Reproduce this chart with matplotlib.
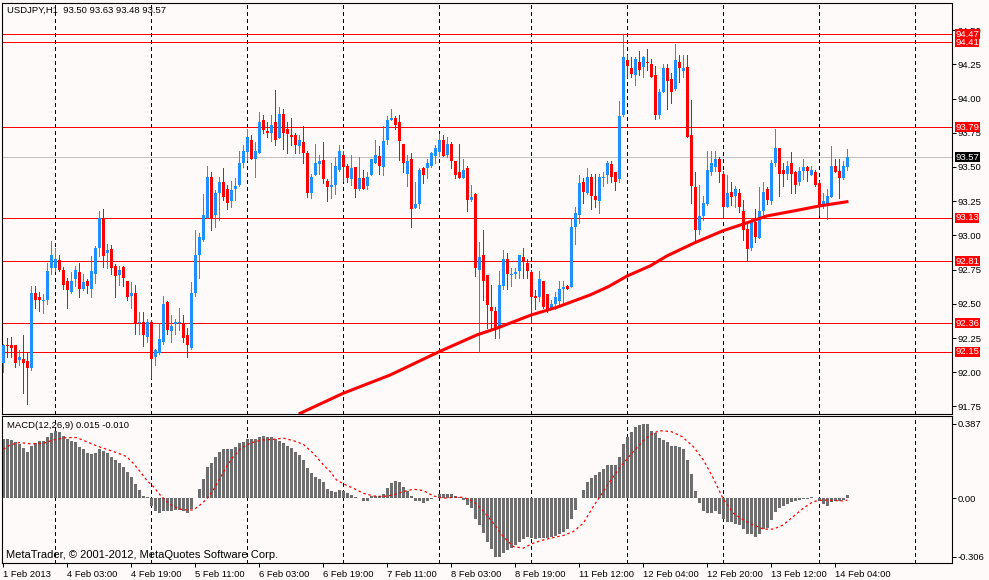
import numpy as np
import matplotlib.pyplot as plt
from matplotlib.transforms import blended_transform_factory

plt.rcParams['font.family'] = ['Liberation Sans', 'DejaVu Sans']

# USDJPY H1 candles
opens = [92.07, 92.20, 92.20, 92.20, 92.09, 92.10, 92.08, 92.03, 92.58, 92.55,
         92.52, 92.53, 92.76, 92.76, 92.82, 92.75, 92.67, 92.59, 92.68, 92.73,
         92.61, 92.67, 92.61, 92.72, 92.91, 93.13, 92.87, 92.90, 92.78, 92.71,
         92.77, 92.67, 92.56, 92.58, 92.36, 92.37, 92.26, 92.37, 92.11, 92.14,
         92.22, 92.51, 92.30, 92.35, 92.36, 92.36, 92.27, 92.18, 92.58, 92.86,
         92.97, 93.13, 93.43, 93.15, 93.31, 93.39, 93.34, 93.25, 93.34, 93.37,
         93.53, 93.61, 93.70, 93.56, 93.60, 93.84, 93.76, 93.75, 93.83, 93.71,
         93.89, 93.78, 93.73, 93.73, 93.65, 93.68, 93.60, 93.31, 93.44, 93.52,
         93.55, 93.40, 93.35, 93.37, 93.48, 93.59, 93.51, 93.41, 93.50, 93.34,
         93.42, 93.36, 93.44, 93.53, 93.58, 93.50, 93.70, 93.84, 93.86, 93.83,
         93.67, 93.45, 93.56, 93.20, 93.23, 93.49, 93.49, 93.51, 93.58, 93.61,
         93.70, 93.59, 93.67, 93.54, 93.46, 93.42, 93.49, 93.26, 93.30, 92.75,
         92.86, 92.71, 92.48, 92.45, 92.33, 92.63, 92.83, 92.71, 92.72, 92.74,
         92.84, 92.80, 92.73, 92.56, 92.55, 92.67, 92.57, 92.46, 92.50, 92.52,
         92.61, 92.63, 92.62, 93.06, 93.15, 93.39, 93.31, 93.43, 93.29, 93.25,
         93.42, 93.44, 93.52, 93.46, 93.41, 93.88, 94.28, 94.22, 94.17, 94.27,
         94.23, 94.27, 94.25, 94.17, 93.88, 94.05, 94.22, 94.14, 94.07, 94.27,
         94.20, 94.23, 93.73, 93.35, 93.04, 93.14, 93.23, 93.46, 93.50, 93.56,
         93.45, 93.21, 93.32, 93.29, 93.31, 93.18, 93.05, 92.91, 93.10, 92.98,
         93.18, 93.34, 93.25, 93.53, 93.64, 93.48, 93.45, 93.53, 93.46, 93.39,
         93.47, 93.50, 93.44, 93.46, 93.38, 93.22, 93.23, 93.28, 93.51, 93.47,
         93.42, 93.50]
highs = [92.21, 92.25, 92.26, 92.20, 92.16, 92.27, 92.14, 92.63, 92.63, 92.59,
         92.57, 92.80, 92.96, 92.91, 92.86, 92.77, 92.69, 92.73, 92.78, 92.80,
         92.72, 92.68, 92.85, 92.92, 93.18, 93.19, 92.94, 92.93, 92.79, 92.78,
         92.78, 92.67, 92.66, 92.64, 92.44, 92.44, 92.39, 92.38, 92.17, 92.36,
         92.56, 92.52, 92.42, 92.39, 92.47, 92.42, 92.32, 92.66, 93.04, 93.02,
         93.30, 93.51, 93.46, 93.33, 93.43, 93.49, 93.37, 93.40, 93.42, 93.62,
         93.66, 93.78, 93.73, 93.68, 93.90, 93.88, 93.83, 93.88, 94.06, 93.94,
         93.92, 93.83, 93.86, 93.75, 93.73, 93.80, 93.62, 93.45, 93.67, 93.59,
         93.68, 93.41, 93.53, 93.57, 93.66, 93.62, 93.52, 93.59, 93.50, 93.57,
         93.48, 93.46, 93.56, 93.70, 93.65, 93.80, 93.87, 93.92, 93.87, 93.88,
         93.67, 93.59, 93.60, 93.39, 93.49, 93.50, 93.56, 93.61, 93.66, 93.74,
         93.73, 93.72, 93.68, 93.54, 93.67, 93.56, 93.51, 93.37, 93.31, 92.95,
         93.04, 92.71, 92.64, 92.48, 92.74, 92.89, 92.87, 92.76, 92.76, 92.86,
         92.91, 92.83, 92.75, 92.60, 92.74, 92.67, 92.57, 92.53, 92.59, 92.67,
         92.67, 92.64, 93.13, 93.21, 93.44, 93.42, 93.49, 93.45, 93.45, 93.45,
         93.46, 93.54, 93.54, 93.46, 93.98, 94.47, 94.32, 94.30, 94.30, 94.35,
         94.31, 94.36, 94.29, 94.24, 94.07, 94.25, 94.25, 94.19, 94.40, 94.32,
         94.32, 94.32, 93.99, 93.46, 93.37, 93.29, 93.62, 93.62, 93.62, 93.57,
         93.47, 93.44, 93.39, 93.36, 93.34, 93.26, 93.10, 93.13, 93.19, 93.35,
         93.39, 93.35, 93.55, 93.78, 93.64, 93.53, 93.54, 93.61, 93.47, 93.50,
         93.56, 93.51, 93.51, 93.48, 93.40, 93.31, 93.34, 93.65, 93.56, 93.56,
         93.54, 93.63]
lows = [92.00, 92.11, 92.11, 92.04, 92.05, 91.85, 91.77, 92.02, 92.47, 92.45,
        92.43, 92.50, 92.72, 92.74, 92.74, 92.61, 92.47, 92.58, 92.63, 92.55,
        92.60, 92.58, 92.55, 92.65, 92.85, 92.77, 92.76, 92.72, 92.55, 92.64,
        92.63, 92.53, 92.47, 92.28, 92.28, 92.19, 92.22, 91.96, 92.05, 92.13,
        92.21, 92.28, 92.22, 92.28, 92.31, 92.22, 92.11, 92.17, 92.56, 92.69,
        92.96, 93.13, 93.04, 93.06, 93.11, 93.26, 93.19, 93.21, 93.26, 93.36,
        93.50, 93.55, 93.56, 93.43, 93.60, 93.75, 93.72, 93.69, 93.66, 93.71,
        93.63, 93.60, 93.66, 93.60, 93.60, 93.53, 93.28, 93.27, 93.44, 93.45,
        93.38, 93.25, 93.27, 93.30, 93.47, 93.40, 93.39, 93.37, 93.28, 93.33,
        93.34, 93.34, 93.44, 93.53, 93.45, 93.44, 93.67, 93.84, 93.78, 93.55,
        93.46, 93.36, 93.06, 93.20, 93.20, 93.38, 93.42, 93.50, 93.53, 93.58,
        93.58, 93.57, 93.49, 93.42, 93.42, 93.42, 93.18, 93.25, 92.70, 92.15,
        92.53, 92.32, 92.31, 92.25, 92.25, 92.61, 92.61, 92.63, 92.69, 92.69,
        92.69, 92.69, 92.37, 92.46, 92.52, 92.47, 92.44, 92.46, 92.46, 92.49,
        92.50, 92.61, 92.62, 92.94, 93.09, 93.24, 93.30, 93.19, 93.21, 93.16,
        93.36, 93.38, 93.39, 93.33, 93.39, 93.87, 94.16, 94.16, 94.10, 94.17,
        94.16, 94.21, 94.16, 93.85, 93.86, 94.05, 93.92, 93.97, 94.06, 94.12,
        94.16, 93.72, 93.24, 92.95, 93.01, 93.11, 93.22, 93.44, 93.47, 93.39,
        93.13, 93.21, 93.22, 93.21, 93.17, 92.97, 92.81, 92.89, 92.95, 92.98,
        93.15, 93.23, 93.23, 93.51, 93.29, 93.36, 93.41, 93.31, 93.31, 93.37,
        93.41, 93.40, 93.44, 93.36, 93.15, 93.20, 93.12, 93.28, 93.46, 93.27,
        93.41, 93.48]
closes = [92.20, 92.19, 92.18, 92.07, 92.11, 92.07, 92.03, 92.58, 92.53, 92.53,
          92.53, 92.74, 92.86, 92.83, 92.75, 92.64, 92.60, 92.67, 92.75, 92.61,
          92.66, 92.63, 92.74, 92.91, 93.13, 92.85, 92.89, 92.76, 92.70, 92.75,
          92.69, 92.55, 92.58, 92.36, 92.37, 92.27, 92.37, 92.10, 92.16, 92.24,
          92.50, 92.31, 92.34, 92.37, 92.37, 92.25, 92.20, 92.58, 92.86, 92.99,
          93.15, 93.43, 93.13, 93.31, 93.39, 93.28, 93.24, 93.33, 93.36, 93.53,
          93.62, 93.72, 93.56, 93.62, 93.83, 93.77, 93.75, 93.81, 93.70, 93.89,
          93.75, 93.74, 93.72, 93.66, 93.70, 93.60, 93.31, 93.43, 93.53, 93.54,
          93.41, 93.35, 93.37, 93.51, 93.62, 93.50, 93.42, 93.49, 93.34, 93.42,
          93.34, 93.43, 93.56, 93.59, 93.51, 93.69, 93.84, 93.86, 93.81, 93.69,
          93.53, 93.54, 93.19, 93.23, 93.48, 93.44, 93.53, 93.60, 93.64, 93.70,
          93.58, 93.67, 93.54, 93.44, 93.42, 93.48, 93.26, 93.28, 92.76, 92.84,
          92.67, 92.49, 92.45, 92.32, 92.64, 92.83, 92.72, 92.72, 92.73, 92.86,
          92.81, 92.74, 92.55, 92.54, 92.68, 92.48, 92.46, 92.50, 92.55, 92.61,
          92.62, 92.61, 93.06, 93.16, 93.38, 93.32, 93.43, 93.29, 93.26, 93.43,
          93.43, 93.53, 93.43, 93.39, 93.87, 94.30, 94.24, 94.18, 94.29, 94.21,
          94.30, 94.26, 94.16, 93.88, 94.05, 94.22, 94.13, 94.05, 94.28, 94.22,
          94.22, 93.72, 93.36, 93.04, 93.14, 93.24, 93.48, 93.53, 93.56, 93.46,
          93.21, 93.31, 93.28, 93.34, 93.21, 93.04, 92.90, 93.10, 92.99, 93.18,
          93.32, 93.26, 93.53, 93.64, 93.45, 93.45, 93.51, 93.45, 93.37, 93.47,
          93.50, 93.47, 93.48, 93.37, 93.22, 93.25, 93.29, 93.51, 93.46, 93.42,
          93.51, 93.57]

# moving average (thick red), sampled at bar numbers
ma_bar = [74.2, 85.0, 96.7, 109.0, 118.4, 123.4, 132.0, 138.4, 146.7, 151.3,
          156.0, 161.7, 165.9, 172.9, 180.0, 185.0, 190.9, 197.5, 204.0, 210.9]
ma_val = [91.700, 91.847, 91.980, 92.151, 92.273, 92.322, 92.419, 92.475, 92.565,
          92.626, 92.704, 92.777, 92.850, 92.947, 93.035, 93.083, 93.142, 93.178,
          93.215, 93.246]

# horizontal levels drawn on the chart
levels = [94.47, 94.41, 93.79, 93.13, 92.81, 92.36, 92.15]
bid = 93.57

# MACD(12,26,9) histogram
macd = [0.307, 0.307, 0.304, 0.292, 0.281, 0.264, 0.243, 0.274, 0.286, 0.299,
        0.299, 0.321, 0.342, 0.352, 0.344, 0.325, 0.307, 0.299, 0.292, 0.269,
        0.255, 0.234, 0.229, 0.238, 0.257, 0.247, 0.238, 0.217, 0.200, 0.186,
        0.165, 0.139, 0.113, 0.075, 0.043, 0.012, 0.005, -0.043, -0.064, -0.078,
        -0.064, -0.066, -0.066, -0.061, -0.061, -0.064, -0.075, -0.057, 0.003, 0.049,
        0.099, 0.161, 0.186, 0.217, 0.243, 0.255, 0.257, 0.257, 0.266, 0.286,
        0.295, 0.309, 0.309, 0.309, 0.321, 0.325, 0.321, 0.321, 0.307, 0.299,
        0.286, 0.274, 0.260, 0.240, 0.226, 0.200, 0.156, 0.130, 0.113, 0.101,
        0.083, 0.047, 0.038, 0.035, 0.043, 0.038, 0.026, 0.017, 0.005, 0.002,
        -0.012, -0.012, 0.012, 0.012, 0.012, 0.023, 0.052, 0.078, 0.090, 0.082,
        0.057, 0.038, 0.012, -0.017, -0.017, -0.023, -0.012, -0.005, 0.003, 0.021,
        0.023, 0.023, 0.023, 0.012, 0.005, -0.009, -0.035, -0.052, -0.108, -0.142,
        -0.182, -0.226, -0.266, -0.304, -0.304, -0.283, -0.269, -0.257, -0.243, -0.226,
        -0.212, -0.200, -0.205, -0.210, -0.208, -0.205, -0.205, -0.200, -0.196, -0.186,
        -0.174, -0.161, -0.108, -0.061, 0.003, 0.043, 0.087, 0.108, 0.122, 0.135,
        0.151, 0.174, 0.174, 0.174, 0.214, 0.281, 0.321, 0.347, 0.373, 0.382,
        0.387, 0.387, 0.352, 0.339, 0.313, 0.304, 0.295, 0.274, 0.274, 0.269,
        0.255, 0.200, 0.127, 0.038, -0.026, -0.066, -0.078, -0.078, -0.069, -0.082,
        -0.109, -0.122, -0.125, -0.135, -0.139, -0.161, -0.188, -0.188, -0.200, -0.186,
        -0.161, -0.156, -0.113, -0.073, -0.052, -0.043, -0.030, -0.021, -0.017, -0.009,
        -0.005, -0.002, 0.007, 0.002, -0.017, -0.031, -0.038, -0.021, -0.017, -0.014,
        -0.009, 0.015]

# signal line (red dots), sampled
sig_bar = [0, 1.7, 4, 7, 10, 12.5, 15.8, 18.3, 20.8, 23.3, 25.8, 28.3, 30.8,
           32.5, 34.2, 35.8, 37.5, 39.2, 40.8, 42.5, 44.2, 45.8, 47.5, 49.2,
           50.8, 52.5, 54.2, 55.8, 57.5, 59.2, 60.8, 62.5, 65, 67.5, 70, 72.5,
           75, 77.5, 80, 81.7, 83.3, 85, 87.5, 90, 92.5, 95, 97.5, 100, 102.5,
           105, 107.5, 110, 112.5, 115, 117.5, 120, 122.5, 125, 127.5, 130,
           132.5, 135, 137.5, 140, 142.5, 145, 147.5, 150, 152.5, 155, 157.5,
           160, 161.7, 164, 167, 169.7, 172.5, 175, 177.5, 180, 182.5, 185,
           187.5, 190, 192.5, 195, 197.5, 200, 202.5, 205, 207.5, 210, 211]
sig_val = [0.255, 0.278, 0.290, 0.283, 0.286, 0.304, 0.316, 0.316, 0.295, 0.273,
           0.255, 0.238, 0.217, 0.182, 0.139, 0.095, 0.061, 0.017, -0.017, -0.043,
           -0.057, -0.061, -0.061, -0.035, -0.005, 0.043, 0.104, 0.165, 0.217, 0.255,
           0.278, 0.292, 0.304, 0.307, 0.313, 0.300, 0.281, 0.234, 0.174, 0.139,
           0.095, 0.075, 0.052, 0.026, 0.012, 0.009, 0.017, 0.035, 0.047, 0.040,
           0.012, 0.000, 0.005, 0.005, -0.017, -0.066, -0.130, -0.200, -0.252, -0.260,
           -0.234, -0.217, -0.205, -0.194, -0.174, -0.130, -0.043, 0.035, 0.113, 0.182,
           0.243, 0.300, 0.330, 0.352, 0.347, 0.321, 0.269, 0.200, 0.104, -0.005,
           -0.078, -0.113, -0.139, -0.161, -0.161, -0.139, -0.095, -0.052, -0.017, -0.009,
           -0.012, -0.014, -0.010]

grid_bars = [13, 37, 61, 85, 109, 132, 156, 180, 204, 228]
label_bars = [0, 16, 32, 48, 64, 80, 96, 112, 128, 144, 160, 176, 192, 208]
date_labels = ['1 Feb 2013', '4 Feb 03:00', '4 Feb 19:00', '5 Feb 11:00',
               '6 Feb 03:00', '6 Feb 19:00', '7 Feb 11:00', '8 Feb 03:00',
               '8 Feb 19:00', '11 Feb 12:00', '12 Feb 04:00', '12 Feb 20:00',
               '13 Feb 12:00', '14 Feb 04:00']

BG = '#FFFAFA'
UP = '#1E90FF'
DN = '#FF0000'
W, H = 989, 580
FS = 6.8
PX = 0.72  # one pixel in points

o = np.array(opens); hi = np.array(highs); lo = np.array(lows); c = np.array(closes)
x = np.arange(len(c))
cols = np.where(c >= o, UP, DN)

fig = plt.figure(figsize=(W / 100, H / 100), dpi=100, facecolor=BG)
ax = fig.add_axes([2 / W, 1 - 414.3 / H, 949.7 / W, 411.6 / H], facecolor=BG)
ax2 = fig.add_axes([2 / W, 1 - 563.3 / H, 949.7 / W, 147.6 / H], facecolor=BG)

for a in (ax, ax2):
    a.set_xlim(-0.33, 237.1)
    for g in grid_bars:
        a.axvline(g, color='black', lw=PX, ls=(0, (3, 3)), zorder=1,
                  antialiased=False)
    for s in a.spines.values():
        s.set_linewidth(0.8)
    a.yaxis.tick_right()
    a.tick_params(axis='y', direction='out', length=3, width=PX,
                  labelsize=FS, pad=1.5)

# main price panel
ax.set_ylim(91.693, 94.70)
ax.axhline(bid, color='#C0C0C0', lw=PX, zorder=1, antialiased=False)
for lv in levels:
    ax.axhline(lv, color='#FF0000', lw=PX, zorder=1, antialiased=False)
ax.vlines(x, lo, hi, colors=cols, lw=PX, zorder=3, antialiased=False)
ax.bar(x, np.maximum(np.abs(c - o), 0.008), bottom=np.minimum(o, c), width=0.75,
       color=cols, lw=0, zorder=3, antialiased=False)
ax.plot(ma_bar, ma_val, color='#FF0000', lw=2.2, zorder=4)

yt = np.arange(91.75, 94.51, 0.25)
ax.set_yticks(yt)
ax.set_yticklabels([f'{v:.2f}' for v in yt])
ax.set_xticks([])

tr = blended_transform_factory(ax.transAxes, ax.transData)
for lv in levels:
    ax.text(1.0036, lv, f'{lv:.2f}', transform=tr, color='white', fontsize=FS,
            ha='left', va='center', zorder=6, clip_on=False,
            bbox=dict(boxstyle='square,pad=0.06', fc='#FF0000', ec='none'))
ax.text(1.0036, bid, f'{bid:.2f}', transform=tr, color='white', fontsize=FS,
        ha='left', va='center', zorder=6, clip_on=False,
        bbox=dict(boxstyle='square,pad=0.06', fc='black', ec='none'))

# MACD panel
ax2.set_ylim(-0.339, 0.430)
ax2.bar(x, macd, width=0.75, color='#6E6E6E', lw=0, zorder=2, antialiased=False)
ax2.plot(sig_bar, sig_val, color='#FF0000', lw=0.9, ls=(0, (2, 2.2)), zorder=3)
ax2.set_yticks([0.387, 0.0, -0.306])
ax2.set_yticklabels(['0.387', '0.00', '-0.306'])
ax2.set_xticks(label_bars)
ax2.set_xticklabels(date_labels, ha='left')
ax2.tick_params(axis='x', direction='out', length=3, width=PX,
                labelsize=FS, pad=1.5)

fig.text(6.7 / W, 1 - 10.7 / H, 'USDJPY,H1  93.50 93.63 93.48 93.57',
         fontsize=FS, va='center', ha='left')
fig.text(6.7 / W, 1 - 426 / H, 'MACD(12,26,9) 0.015 -0.010',
         fontsize=FS, va='center', ha='left')
fig.text(6 / W, 1 - 555 / H, 'MetaTrader, \u00a9 2001-2012, MetaQuotes Software Corp.',
         fontsize=8, va='center', ha='left')

fig.savefig('out.png', dpi=100, facecolor=BG)
